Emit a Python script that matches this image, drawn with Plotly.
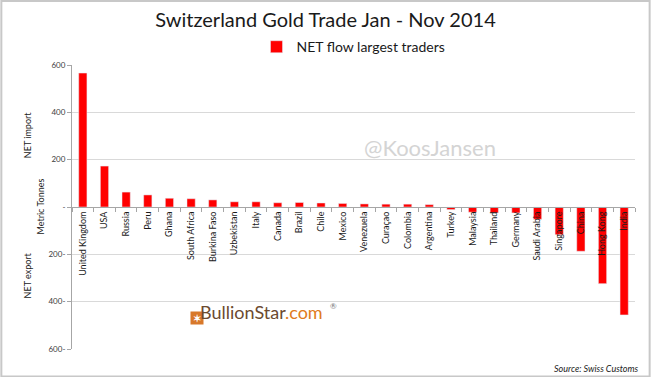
import plotly.graph_objects as go

countries = ["United Kingdom", "USA", "Russia", "Peru", "Ghana", "South Africa", "Burkina Faso",
             "Uzbekistan", "Italy", "Canada", "Brazil", "Chile", "Mexico", "Venezuela", "Curaçao",
             "Colombia", "Argentina", "Turkey", "Malaysia", "Thailand", "Germany", "Saudi Arabia",
             "Singapore", "China", "Hong Kong", "India"]
net_flow = [566, 173, 63, 51, 37, 35, 30, 22, 22, 18, 19, 17, 15, 13, 12, 12, 10,
            -11, -22, -25, -25, -52, -117, -187, -324, -456]
ytick_vals = [600, 400, 200, 0, -200, -400, -600]
ytick_text = ["600", "400", "200", "-", "200-", "400-", "600-"]

FONT = "Lato, Open Sans, sans-serif"

fig = go.Figure()
fig.add_trace(go.Bar(x=countries, y=net_flow, marker_color="#ff0000",
                     name="NET flow largest traders", width=0.38))

fig.update_layout(
    width=651, height=377,
    margin=dict(l=72, r=16, t=65, b=28, autoexpand=False),
    paper_bgcolor="white", plot_bgcolor="white",
    font=dict(family=FONT, color="#404040"),
    title=dict(text="Switzerland Gold Trade Jan - Nov 2014", x=0.5, xanchor="center",
               y=0.947, yanchor="middle", font=dict(size=20, color="#1a1a1a", family=FONT)),
    showlegend=True,
    legend=dict(orientation="h", x=0.5, xanchor="center", yref="container", y=0.875,
                yanchor="middle", font=dict(size=14, color="#1a1a1a"), itemwidth=30),
    xaxis=dict(anchor="free", position=0.5, showline=True, linecolor="#a6a6a6",
               ticks="outside", tickson="boundaries", ticklen=4, tickcolor="#a6a6a6",
               tickangle=-90, tickfont=dict(size=9, color="#1a1a1a"), showgrid=False,
               zeroline=False, automargin=False),
    yaxis=dict(range=[-600, 600], tickvals=ytick_vals, ticktext=ytick_text,
               showline=True, linecolor="#a6a6a6", ticks="outside", ticklen=4,
               tickcolor="#a6a6a6", showgrid=True, gridcolor="#d9d9d9", zeroline=False,
               tickfont=dict(size=8, color="#404040"), automargin=False),
)

# axis side titles
for txt, yy in [("NET import", 0.84), ("NET export", 0.17)]:
    fig.add_annotation(text=txt, xref="paper", yref="paper", x=-0.092, y=yy, textangle=-90,
                       showarrow=False, font=dict(size=9, color="#1a1a1a"))
fig.add_annotation(text="Metric Tonnes", xref="paper", yref="paper", x=-0.071, y=0.5,
                   textangle=-90, showarrow=False, font=dict(size=9, color="#1a1a1a"))

# watermark
fig.add_annotation(text="@KoosJansen", xref="paper", yref="paper", x=0.636, y=0.764,
                   showarrow=False, font=dict(size=22, color="#d4d4d4"))

# logo
fig.add_annotation(text="<b>✶</b>", xref="paper", yref="paper", x=0.210, y=0.085,
                   showarrow=False, bgcolor="#d8782a", font=dict(size=10, color="white"),
                   borderpad=0, width=12, height=12)
fig.add_annotation(text="<span style='color:#6b4a2f'>BullionStar</span><span style='color:#e07b20'>.com</span>",
                   xref="paper", yref="paper", x=0.224, y=0.085, xanchor="left",
                   showarrow=False, font=dict(size=18, family=FONT))
fig.add_annotation(text="®", xref="paper", yref="paper", x=0.455, y=0.127, xanchor="left",
                   showarrow=False, font=dict(size=8, color="#777777"))

# source
fig.add_annotation(text="<i>Source: Swiss Customs</i>", xref="paper", yref="paper", x=1.011,
                   y=-0.067, xanchor="right", yanchor="middle", showarrow=False,
                   font=dict(size=9, color="#1a1a1a"))

# frame
fig.add_shape(type="rect", xref="paper", yref="paper", x0=-0.1255, x1=1.026, y0=-0.097, y1=1.225,
              line=dict(color="#c8c8c8", width=2), fillcolor="rgba(0,0,0,0)")

fig.write_html("out.html", config={"displayModeBar": False},
               post_script="document.body.style.margin='0';document.body.style.overflow='hidden';")
